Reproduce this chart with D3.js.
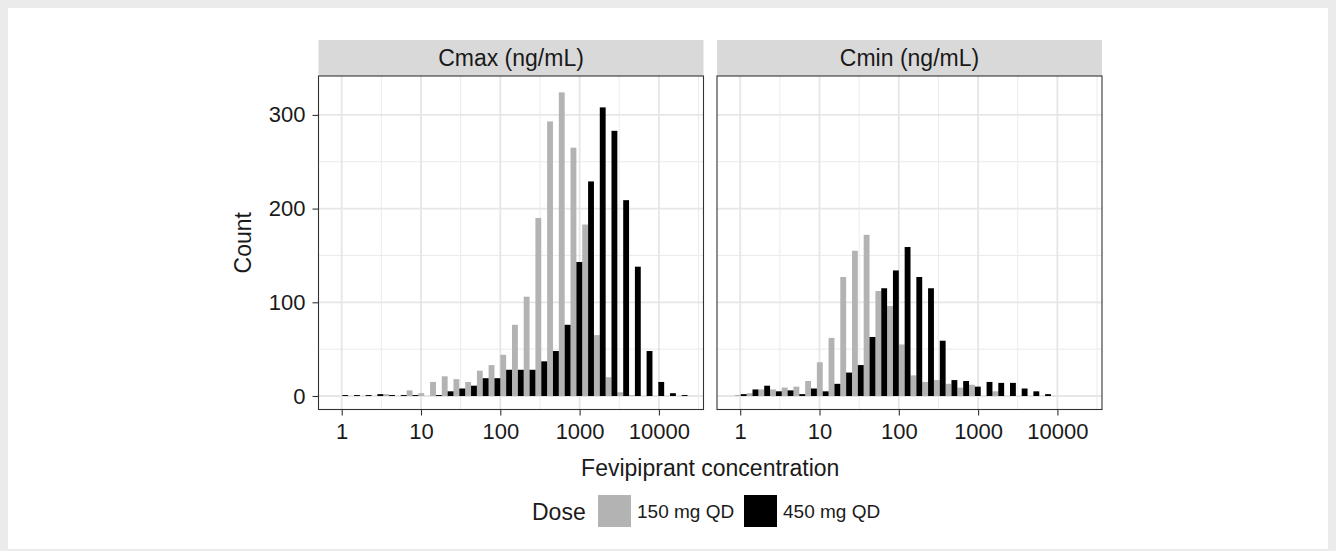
<!DOCTYPE html>
<html>
<head>
<meta charset="utf-8">
<script src="https://cdn.jsdelivr.net/npm/d3@7"></script>
<style>
  body { margin: 0; background: #fff; }
  text { font-family: "Liberation Sans", Arial, sans-serif; fill: #1a1a1a; }
</style>
</head>
<body>
<svg id="chart" width="1336" height="551"></svg>
<script>
// facets and doses
const panels = ['Cmax (ng/mL)', 'Cmin (ng/mL)'];
const doses = ['150 mg QD', '450 mg QD'];

// histogram bins (log10 of concentration), 30 bins
const logBinStart = -0.0664;
const logBinWidth = 0.1476;

// counts per bin
const cmax150 = [0, 0, 0, 0, 2, 0, 6, 3, 15, 21, 18, 15, 27, 33, 44, 76, 106, 190, 293, 324, 265, 183, 65, 20, 4, 1, 0, 0, 0, 0];
const cmax450 = [1, 1, 1, 2, 1, 1, 1, 0, 1, 5, 8, 11, 19, 19, 28, 28, 28, 37, 48, 76, 143, 229, 308, 283, 209, 138, 48, 15, 3, 1];
const cmin150 = [1, 3, 7, 7, 9, 10, 16, 36, 62, 127, 155, 172, 112, 96, 55, 22, 15, 17, 13, 9, 12, 0, 5, 0, 0, 0, 0, 0, 0, 0];
const cmin450 = [2, 7, 11, 5, 6, 2, 8, 5, 13, 25, 33, 63, 115, 134, 159, 127, 115, 59, 17, 16, 10, 15, 14, 14, 8, 5, 2, 0, 0, 0];

const xTicks = [1, 10, 100, 1000, 10000];
const xMinor = [Math.sqrt(10), Math.sqrt(10) * 10, Math.sqrt(10) * 100, Math.sqrt(10) * 1000, Math.sqrt(10) * 10000];
const yTicks = [0, 100, 200, 300];
const yMinor = [50, 150, 250];

const fills = ['#b3b3b3', '#000000'];
const seriesByPanel = [[cmax150, cmax450], [cmin150, cmin450]];

const svg = d3.select('#chart');

// outer frame
svg.append('rect').attr('width', 1336).attr('height', 551).attr('fill', '#ebebeb');
svg.append('rect').attr('x', 8).attr('y', 8).attr('width', 1320).attr('height', 541).attr('fill', '#fff');

const panelW = 385, panelTop = 76, panelBottom = 409.5, stripH = 36;
const panelLefts = [318.5, 717];

const x = d3.scaleLog()
    .domain([Math.pow(10, -0.2926), Math.pow(10, 4.5624)])
    .range([0, panelW]);
const y = d3.scaleLinear()
    .domain([-14.4, 341.5])
    .range([panelBottom, panelTop]);

const edges = d3.range(31).map(i => Math.pow(10, logBinStart + i * logBinWidth));

panels.forEach((title, p) => {
    const g = svg.append('g').attr('transform', `translate(${panelLefts[p]},0)`);

    // strip
    g.append('rect')
        .attr('x', 0).attr('y', panelTop - stripH)
        .attr('width', panelW).attr('height', stripH)
        .attr('fill', '#d9d9d9');
    g.append('text')
        .attr('x', panelW / 2).attr('y', panelTop - stripH / 2)
        .attr('dy', '0.36em')
        .attr('text-anchor', 'middle')
        .style('font-size', '23px')
        .text(title);

    // grid
    g.selectAll('.vminor').data(xMinor.filter(v => x(v) < panelW)).enter().append('line')
        .attr('x1', d => x(d)).attr('x2', d => x(d))
        .attr('y1', panelTop).attr('y2', panelBottom)
        .attr('stroke', '#ebebeb').attr('stroke-width', 1);
    g.selectAll('.hminor').data(yMinor).enter().append('line')
        .attr('x1', 0).attr('x2', panelW)
        .attr('y1', d => y(d)).attr('y2', d => y(d))
        .attr('stroke', '#ebebeb').attr('stroke-width', 1);
    g.selectAll('.vmajor').data(xTicks).enter().append('line')
        .attr('x1', d => x(d)).attr('x2', d => x(d))
        .attr('y1', panelTop).attr('y2', panelBottom)
        .attr('stroke', '#e6e6e6').attr('stroke-width', 1.8);
    g.selectAll('.hmajor').data(yTicks).enter().append('line')
        .attr('x1', 0).attr('x2', panelW)
        .attr('y1', d => y(d)).attr('y2', d => y(d))
        .attr('stroke', '#e6e6e6').attr('stroke-width', 1.8);

    // dodged histogram bars: 150 mg on the left half, 450 mg on the right half
    seriesByPanel[p].forEach((counts, s) => {
        g.selectAll(null).data(counts).enter().append('rect')
            .attr('x', (d, i) => {
                const x0 = x(edges[i]), x1 = x(edges[i + 1]);
                return x0 + s * (x1 - x0) / 2;
            })
            .attr('width', (d, i) => (x(edges[i + 1]) - x(edges[i])) / 2)
            .attr('y', d => y(d))
            .attr('height', d => y(0) - y(d))
            .attr('fill', fills[s]);
    });

    // border
    g.append('rect')
        .attr('x', 0).attr('y', panelTop)
        .attr('width', panelW).attr('height', panelBottom - panelTop)
        .attr('fill', 'none').attr('stroke', '#333').attr('stroke-width', 1.1);

    // x axis
    const xAxis = d3.axisBottom(x).tickValues(xTicks).tickFormat(d3.format('d')).tickSize(6).tickPadding(8);
    const ax = g.append('g').attr('transform', `translate(0,${panelBottom})`).call(xAxis);
    ax.select('.domain').remove();
    ax.selectAll('line').attr('stroke', '#333').attr('stroke-width', 1.1);
    ax.selectAll('text').style('font-size', '22px').attr('fill', '#1a1a1a')
        .style('font-family', '"Liberation Sans", Arial, sans-serif');

    if (p === 0) {
        const yAxis = d3.axisLeft(y).tickValues(yTicks).tickSize(6).tickPadding(7);
        const ay = g.append('g').call(yAxis);
        ay.select('.domain').remove();
        ay.selectAll('line').attr('stroke', '#333').attr('stroke-width', 1.1);
        ay.selectAll('text').style('font-size', '22px').attr('fill', '#1a1a1a')
            .style('font-family', '"Liberation Sans", Arial, sans-serif');
    }
});

// axis titles
const midX = (panelLefts[0] + panelLefts[1] + panelW) / 2;
svg.append('text')
    .attr('x', midX).attr('y', 476)
    .attr('text-anchor', 'middle')
    .style('font-size', '23px')
    .text('Fevipiprant concentration');
svg.append('text')
    .attr('transform', `translate(251,${(panelTop + panelBottom) / 2}) rotate(-90)`)
    .attr('text-anchor', 'middle')
    .style('font-size', '23px')
    .text('Count');

// legend
const legend = svg.append('g');
legend.append('text').attr('x', 532).attr('y', 520).style('font-size', '23px').text('Dose');
const keyX = [598, 744];
doses.forEach((d, i) => {
    legend.append('rect')
        .attr('x', keyX[i]).attr('y', 495)
        .attr('width', 33).attr('height', 32)
        .attr('fill', fills[i]);
    legend.append('text')
        .attr('x', keyX[i] + 39).attr('y', 518)
        .style('font-size', '19px')
        .text(d);
});
</script>
</body>
</html>
